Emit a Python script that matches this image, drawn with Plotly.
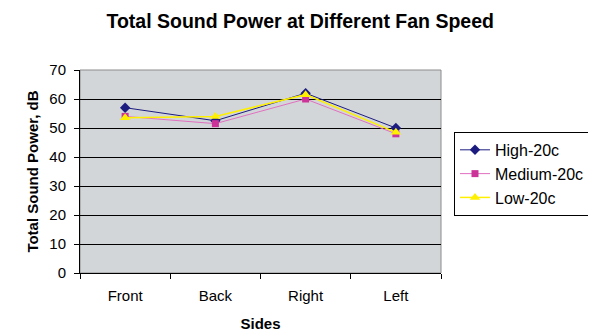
import plotly.graph_objects as go

sides = ["Front", "Back", "Right", "Left"]
high_20c = [57, 52.5, 62, 50]
medium_20c = [54, 51.5, 60, 48]
low_20c = [53.5, 54, 61.5, 48.5]
y_ticks = [0, 10, 20, 30, 40, 50, 60, 70]

FONT = "Liberation Sans, Arial, sans-serif"

fig = go.Figure()
fig.add_trace(go.Scatter(
    x=sides, y=high_20c, name="High-20c", mode="lines+markers",
    line=dict(color="#1C1C80", width=1),
    marker=dict(symbol="diamond", size=8, color="#1C1C80"),
))
fig.add_trace(go.Scatter(
    x=sides, y=medium_20c, name="Medium-20c", mode="lines+markers",
    line=dict(color="#E070C0", width=1),
    marker=dict(symbol="square", size=7, color="#CC3399"),
))
fig.add_trace(go.Scatter(
    x=sides, y=low_20c, name="Low-20c", mode="lines+markers",
    line=dict(color="#FFF000", width=1.5),
    marker=dict(symbol="triangle-up", size=9, color="#FFF000"),
))

fig.add_shape(type="rect", xref="paper", yref="paper", x0=0, y0=0, x1=1, y1=1,
              line=dict(color="#8C8C8C", width=1), layer="below")

fig.update_layout(
    width=596, height=336,
    margin=dict(l=72, r=163, t=62, b=71, autoexpand=False),
    paper_bgcolor="white",
    plot_bgcolor="#D3D6D8",
    font=dict(family=FONT, size=14, color="black"),
    title=dict(text="<b>Total Sound Power at Different Fan Speed</b>",
               x=0.61, xref="paper", xanchor="center", y=0.962, yanchor="middle",
               font=dict(family=FONT, size=19.5, color="black")),
    xaxis=dict(
        title=dict(text="<b>Sides</b>", font=dict(size=15), standoff=15),
        range=[-0.5, 3.5],
        tickson="boundaries", ticks="outside", ticklen=5, tickcolor="black",
        ticklabelstandoff=9,
        showline=True, linecolor="black", linewidth=1,
        showgrid=False, tickfont=dict(size=15), fixedrange=True,
    ),
    yaxis=dict(
        title=dict(text="<b>Total Sound Power, dB</b>", font=dict(size=15), standoff=7),
        range=[0, 70], tickvals=y_ticks, ticks="outside", ticklen=5, tickcolor="black",
        ticklabelstandoff=5,
        showline=True, linecolor="black", linewidth=1,
        showgrid=True, gridcolor="black", gridwidth=1, zeroline=False,
        tickfont=dict(size=15),
    ),
    legend=dict(
        x=1.036, y=0.695, xanchor="left", yanchor="top",
        bgcolor="white", bordercolor="black", borderwidth=1,
        font=dict(size=16), tracegroupgap=0, itemwidth=30,
    ),
    showlegend=True,
)

fig.write_html("out.html")
